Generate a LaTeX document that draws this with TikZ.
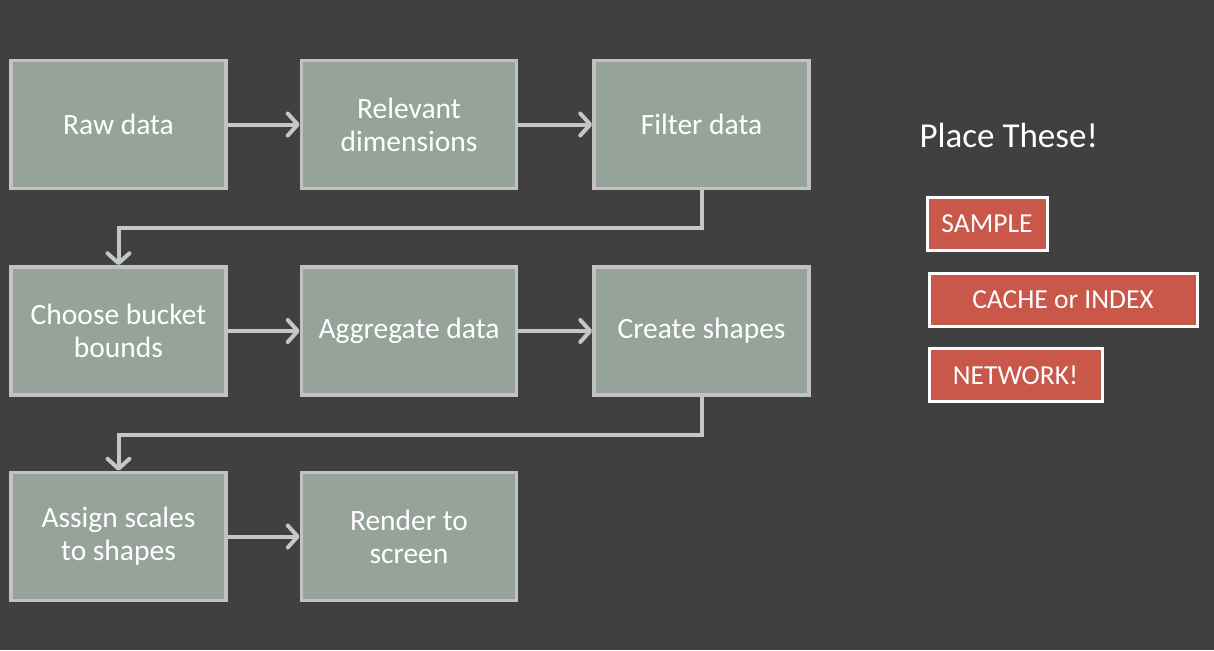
\documentclass[tikz,border=0pt]{standalone}
\usepackage{fontspec}
\setmainfont{Carlito}
\usetikzlibrary{arrows.meta}
\definecolor{bg}{HTML}{404040}
\definecolor{boxfill}{HTML}{95A39A}
\definecolor{boxline}{HTML}{C2C2C2}
\definecolor{arr}{HTML}{C4C8C5}
\definecolor{redfill}{HTML}{C9574A}
\tikzset{
  stepbox/.style={draw=boxline, line width=3.5pt, fill=boxfill, minimum width=215pt, minimum height=128pt, inner sep=0pt, align=center, text=white, font=\fontsize{29.5}{33}\selectfont},
  redbox/.style={draw=white, line width=3pt, fill=redfill, minimum height=53pt, inner sep=0pt, align=center, text=white, font=\fontsize{27.5}{30}\selectfont},
  flow/.style={draw=arr, line width=4pt, -{Straight Barb[length=10pt, width=22pt, line width=4pt, round]}},
}
\begin{document}
\begin{tikzpicture}[x=1pt, y=-1pt]
\fill[bg] (0,0) rectangle (1214,650);
\useasboundingbox (0,0) rectangle (1214,650);
\node[stepbox] (a) at (118.5,124.5) {Raw data};
\node[stepbox] (b) at (409,124.5) {Relevant\\dimensions};
\node[stepbox] (c) at (701.5,124.5) {Filter data};
\node[stepbox] (d) at (118.5,331) {Choose bucket\\bounds};
\node[stepbox] (e) at (409,331) {Aggregate data};
\node[stepbox] (f) at (701.5,331) {Create shapes};
\node[stepbox] (g) at (118.5,536.5) {Assign scales\\to shapes};
\node[stepbox] (h) at (409,536.5) {Render to\\screen};
\draw[flow] (a) -- (b);
\draw[flow] (b) -- (c);
\draw[flow] (d) -- (e);
\draw[flow] (e) -- (f);
\draw[flow] (g) -- (h);
\draw[flow] (c.south) -- ++(0,38) -| (d.north);
\draw[flow] (f.south) -- ++(0,38) -| (g.north);
\node[text=white, font=\fontsize{35}{40}\selectfont, anchor=west] (title) at (916,135) {Place These!};
\node[redbox, minimum width=120pt] (s) at (987,224) {SAMPLE};
\node[redbox, minimum width=268pt] (ci) at (1063,299.5) {CACHE or INDEX};
\node[redbox, minimum width=173pt] (n) at (1015.5,375) {NETWORK!};
\end{tikzpicture}
\end{document}
